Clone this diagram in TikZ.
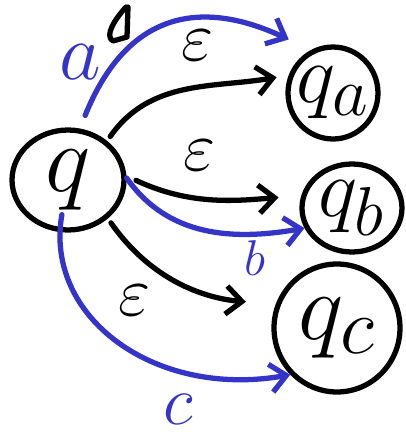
\documentclass[tikz,border=0pt]{standalone}
\usetikzlibrary{arrows.meta,shapes.geometric}
\definecolor{inkblue}{RGB}{52,52,200}
\newcommand{\bigmath}[2]{\scalebox{#1}{$#2$}}
\tikzset{
  state/.style={draw, ellipse, line width=3pt, inner sep=-12pt, font=\Huge},
  epsedge/.style={draw, line width=3pt, line cap=round, line join=round, -{Straight Barb[length=9pt,width=16pt]}},
  symedge/.style={epsedge, inkblue},
  lbl/.style={font=\Huge, inner sep=0pt}
}
\begin{document}
\begin{tikzpicture}[x=0.02cm, y=0.02cm]
    \useasboundingbox (0,0) rectangle (406,441);
    % states
    \node[state, minimum width=2.24cm, minimum height=2cm] (q) at (68,261) {\bigmath{2.2}{q}};
    \node[state, minimum width=1.8cm, minimum height=1.84cm] (qa) at (333,348) {\bigmath{1.9}{q_a}};
    \node[state, minimum width=2cm, minimum height=1.76cm] (qb) at (352,233) {\bigmath{1.9}{q_b}};
    \node[state, minimum width=2.52cm, minimum height=2.56cm] (qc) at (337,113) {\bigmath{2.2}{q_c}};
    % epsilon moves
    \draw[epsedge, shorten <=3pt, shorten >=7pt] (q.45) to[out=55, in=190] (qa.158);
    \draw[epsedge, shorten <=6pt, shorten >=13pt] (q.4) to[out=-25, in=185] (qb.166);
    \draw[epsedge, shorten <=3pt, shorten >=17pt] (q.-44) to[out=-55, in=175] (qc.159);
    % letter moves
    \draw[symedge, shorten <=8pt, shorten >=14pt] (q.77) to[out=68, in=155, looseness=1.3] (qa.117);
    \draw[symedge] (q.2) to[out=-55, in=190] (qb.203);
    \draw[symedge, shorten <=20pt] (q.center) to[out=-100, in=190, looseness=1.2] (qc.225);
    % labels
    \node[lbl] (e1) at (198,396) {\bigmath{1.6}{\varepsilon}};
    \node[lbl] (e2) at (200,286) {\bigmath{1.6}{\varepsilon}};
    \node[lbl] (e3) at (135,141) {\bigmath{1.6}{\varepsilon}};
    \node[lbl, inkblue] (la) at (80,379) {\bigmath{1.85}{a}};
    \node[lbl, inkblue] (lb) at (255,183) {\bigmath{1.15}{b}};
    \node[lbl, inkblue] (lc) at (178,32) {\bigmath{1.6}{c}};
    % stray mark at the top
    \draw[line width=3pt, line cap=round, line join=round] (128,434) -- (127,404)
      (126,434) .. controls (115,422) and (104,405) .. (113,400) -- (127,404);
\end{tikzpicture}
\end{document}
